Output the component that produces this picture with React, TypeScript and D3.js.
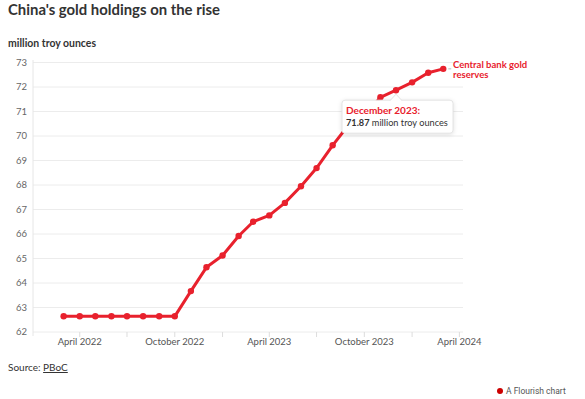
import React from "react";
import * as d3 from "d3";

// monthly reserves, million troy ounces (PBoC)
const months = [
  "2022-03", "2022-04", "2022-05", "2022-06", "2022-07", "2022-08", "2022-09",
  "2022-10", "2022-11", "2022-12", "2023-01", "2023-02", "2023-03", "2023-04",
  "2023-05", "2023-06", "2023-07", "2023-08", "2023-09", "2023-10", "2023-11",
  "2023-12", "2024-01", "2024-02", "2024-03",
];
const reserves = [
  62.64, 62.64, 62.64, 62.64, 62.64, 62.64, 62.64, 62.64, 63.67, 64.64, 65.12,
  65.92, 66.5, 66.76, 67.27, 67.95, 68.69, 69.62, 70.46, 70.8, 71.58, 71.87,
  72.19, 72.58, 72.74,
];
const yTicks = [62, 63, 64, 65, 66, 67, 68, 69, 70, 71, 72, 73];
const xLabelTicks = ["2022-04", "2022-10", "2023-04", "2023-10", "2024-04"];
const xMinorTicks = ["2022-07", "2023-01", "2023-07", "2024-01"];
const highlight = "2023-12";

const RED = "#e8212d";
const FONT = "'Source Sans Pro', Lato, sans-serif";

const parse = d3.timeParse("%Y-%m");

export default function App() {
  const x = d3
    .scaleTime()
    .domain([new Date(2022, 0, 1), new Date(2024, 3, 8)])
    .range([33, 463]);
  const y = d3.scaleLinear().domain([62, 73]).range([332, 62.5]);

  const pts = months.map((m, i) => ({ d: parse(m)!, v: reserves[i] }));
  const line = d3
    .line<{ d: Date; v: number }>()
    .x((p) => x(p.d))
    .y((p) => y(p.v));

  const fmt = d3.timeFormat("%B %Y");
  const hi = pts[months.indexOf(highlight)];
  const hx = x(hi.d);
  const hy = y(hi.v);
  const last = pts[pts.length - 1];

  return (
    <svg
      width={585}
      height={399}
      style={{ position: "absolute", left: 0, top: 0, fontFamily: FONT }}
    >
      <rect width={585} height={399} fill="#fff" />
      <text x={8} y={15} fontSize={15.5} fontWeight={700} fill="#333"
        textLength={212} lengthAdjust="spacingAndGlyphs">
        China's gold holdings on the rise
      </text>
      <text x={8} y={47} fontSize={10.5} fontWeight={700} fill="#333"
        textLength={88} lengthAdjust="spacingAndGlyphs">
        million troy ounces
      </text>

      {yTicks.map((t) => (
        <g key={t}>
          <line x1={33} x2={463} y1={y(t)} y2={y(t)} stroke="#ececec" />
          <text
            x={27}
            y={y(t)}
            dy="0.35em"
            textAnchor="end"
            fontSize={9.5}
            fill="#666"
          >
            {t}
          </text>
        </g>
      ))}
      <line x1={33} x2={33} y1={60} y2={336} stroke="#e6e6e6" />

      {[...xLabelTicks, ...xMinorTicks].map((m) => (
        <line
          key={m}
          x1={x(parse(m)!)}
          x2={x(parse(m)!)}
          y1={332}
          y2={337}
          stroke="#ddd"
        />
      ))}
      {xLabelTicks.map((m) => (
        <text
          key={m}
          x={x(parse(m)!)}
          y={345}
          textAnchor="middle"
          fontSize={9.5}
          fill="#555"
        >
          {d3.timeFormat("%B %Y")(parse(m)!)}
        </text>
      ))}

      <path d={line(pts)!} fill="none" stroke={RED} strokeWidth={3} strokeLinejoin="round" />
      {pts.map((p, i) => (
        <circle key={i} cx={x(p.d)} cy={y(p.v)} r={3.2} fill={RED} />
      ))}

      <line x1={x(last.d) + 5} x2={x(last.d) + 8} y1={y(last.v)} y2={y(last.v)} stroke="#bbb" />
      <text x={453} y={67.5} fontSize={9.5} fontWeight={700} fill={RED}>
        Central bank gold
      </text>
      <text x={453} y={77.5} fontSize={9.5} fontWeight={700} fill={RED}>
        reserves
      </text>

      <g>
        <rect
          x={hx - 54}
          y={hy + 10}
          width={111}
          height={33}
          rx={3}
          fill="#fff"
          stroke="#e4e4e4"
          style={{ filter: "drop-shadow(0 1px 2px rgba(0,0,0,0.12))" }}
        />
        <path
          d={`M${hx - 6},${hy + 10.5} L${hx},${hy + 4} L${hx + 6},${hy + 10.5}`}
          fill="#fff"
          stroke="#e4e4e4"
        />
        <rect x={hx - 5} y={hy + 10} width={10} height={2} fill="#fff" />
        <text x={hx - 50} y={hy + 24} fontSize={10} fontWeight={700} fill={RED}>
          {fmt(hi.d)}:
        </text>
        <text x={hx - 50} y={hy + 36} fontSize={9.2} fill="#333">
          <tspan fontWeight={700}>{hi.v.toFixed(2)}</tspan> million troy ounces
        </text>
      </g>

      <text x={8} y={371} fontSize={10} fill="#333">
        Source:{" "}
        <tspan textDecoration="underline" style={{ textDecoration: "underline" }}>
          PBoC
        </tspan>
      </text>

      <circle cx={500} cy={391} r={3} fill="#c00" />
      <text x={506} y={394} fontSize={8.5} fill="#555" fontFamily="Roboto, sans-serif">
        A Flourish chart
      </text>
    </svg>
  );
}
